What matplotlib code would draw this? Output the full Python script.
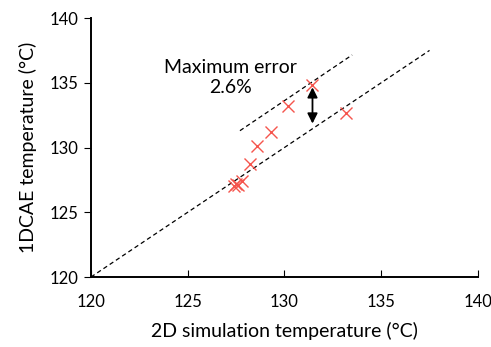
import matplotlib
matplotlib.use("Agg")
import matplotlib.pyplot as plt

plt.rcParams['font.family'] = ['Lato', 'DejaVu Sans']

# 2D simulation vs 1DCAE temperatures (°C)
sim_temp = [127.4, 127.6, 127.5, 127.8, 128.2, 128.6, 129.3, 130.2, 131.4, 133.2]
cae_temp = [127.0, 127.1, 127.2, 127.4, 128.7, 130.1, 131.2, 133.2, 134.8, 132.7]

# reference lines
ideal_x = [120, 137.5]
ideal_y = [120, 137.5]
upper_x = [127.7, 133.5]
upper_y = [131.3, 137.15]

arrow_x = 131.45
arrow_top = 134.65
arrow_bottom = 131.85

fig = plt.figure(figsize=(4.91, 3.47), dpi=100)
ax = fig.add_axes([0.1853, 0.2017, 0.788, 0.7463])

ax.plot(ideal_x, ideal_y, ls='--', color='black', lw=0.9, dashes=(3.5, 2.5))
ax.plot(upper_x, upper_y, ls='--', color='black', lw=0.9, dashes=(3.5, 2.5))
ax.plot(sim_temp, cae_temp, 'x', color='#f5554d', ms=8, mew=1.0)

ax.annotate('', xy=(arrow_x, arrow_top), xytext=(arrow_x, arrow_bottom),
            arrowprops=dict(arrowstyle='<|-|>', color='black', lw=1.3,
                            mutation_scale=15, shrinkA=0, shrinkB=0))
ax.text(127.2, 135.4, 'Maximum error\n2.6%', ha='center', va='center',
        fontsize=14, linespacing=1.2)

ax.set_xlim(120, 140)
ax.set_ylim(120, 140)
ax.set_xticks(range(120, 141, 5))
ax.set_yticks(range(120, 141, 5))
ax.tick_params(axis='x', direction='in', length=5, labelsize=12, pad=12)
ax.tick_params(axis='y', direction='out', length=5, labelsize=12, pad=4)
for s in ['top', 'right']:
    ax.spines[s].set_visible(False)
for s in ['left', 'bottom']:
    ax.spines[s].set_linewidth(1.4)

ax.set_xlabel('2D simulation temperature (°C)', fontsize=14, labelpad=9)
ax.set_ylabel('1DCAE temperature (°C)', fontsize=14, labelpad=9)

fig.savefig('out.png', dpi=100)
